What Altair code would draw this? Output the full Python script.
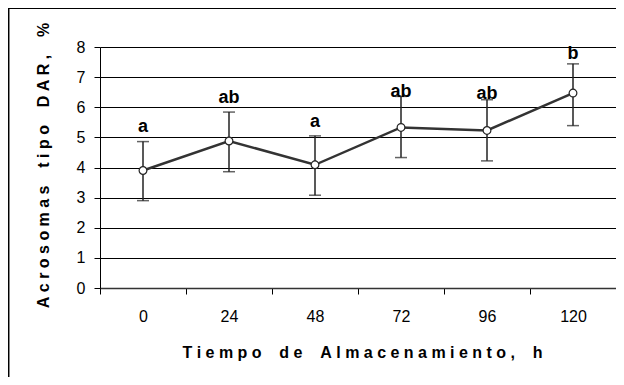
import altair as alt
import pandas as pd

horas = ["0", "24", "48", "72", "96", "120"]
media = [3.90, 4.88, 4.09, 5.33, 5.23, 6.47]
error_inf = [2.90, 3.86, 3.08, 4.33, 4.22, 5.39]
error_sup = [4.86, 5.84, 5.05, 6.36, 6.25, 7.44]
letras = ["a", "ab", "a", "ab", "ab", "b"]
letra_y = [5.19, 6.15, 5.35, 6.35, 6.27, 7.60]
y_ticks = [0, 1, 2, 3, 4, 5, 6, 7, 8]

df = pd.DataFrame({
    "hora": horas, "media": media, "lo": error_inf, "hi": error_sup,
    "letra": letras, "ly": letra_y,
})

NB = "\u00a0"

def spaced(s):
    return (NB * 4).join(NB.join(w) for w in s.split(" "))

x_axis = alt.Axis(
    title=spaced("Tiempo de Almacenamiento, h"), labelAngle=0,
    tickBand="extent", tickSize=6, tickColor="black", domainColor="#333333",
    domainWidth=1.5, labelPadding=14, labelFont="Liberation Sans",
    labelFontSize=16, labelColor="black",
    titleFont="Liberation Sans", titleFontSize=16, titleFontWeight="bold",
    titleColor="black", titleX=262, titleY=64, titleAlign="center",
    titleBaseline="middle", grid=False,
)
x_scale = alt.Scale(domain=horas, paddingInner=0, paddingOuter=0)
X = alt.X("hora:N", sort=horas, scale=x_scale, axis=x_axis)

y_scale = alt.Scale(domain=[0, 8], nice=False)
y_axis = alt.Axis(
    values=y_ticks, tickCount=len(y_ticks), grid=True, gridColor="black",
    gridWidth=1, tickSize=6, tickColor="black", domainColor="black",
    labelPadding=9, labelOverlap=False,
    labelFont="Liberation Sans", labelFontSize=16, labelColor="black",
    title=spaced("Acrosomas tipo DAR, %"), titleFont="Liberation Sans",
    titleFontSize=16, titleFontWeight="bold", titleColor="black",
    titleX=-57, titleY=118, titleAngle=270, titleAlign="center",
    titleBaseline="middle",
)

def Y(field):
    return alt.Y(field, scale=y_scale, axis=y_axis)

base = alt.Chart(df)

border = base.mark_rect(fill=None, stroke="black", strokeWidth=1.2).encode(
    x=alt.value(-91.5), x2=alt.value(800), y=alt.value(-38.5), y2=alt.value(500)
)

rules = base.mark_rule(color="#222222", strokeWidth=1.5).encode(
    x=X, y=Y("lo:Q"), y2="hi:Q"
)
caps_hi = base.mark_tick(color="#222222", size=12, thickness=1.5).encode(
    x=X, y=Y("hi:Q")
)
caps_lo = base.mark_tick(color="#222222", size=12, thickness=1.5).encode(
    x=X, y=Y("lo:Q")
)
line = base.mark_line(color="#333333", strokeWidth=2.5).encode(
    x=X, y=Y("media:Q")
)
points = base.mark_point(
    filled=True, fill="white", stroke="#222222", strokeWidth=1.2, size=60, opacity=1
).encode(x=X, y=Y("media:Q"))
labels = base.mark_text(
    font="Liberation Sans", fontSize=18, fontWeight="bold", color="black",
    baseline="alphabetic", align="center",
).encode(x=X, y=Y("ly:Q"), text="letra:N")

chart = alt.layer(border, rules, caps_hi, caps_lo, line, points, labels).properties(
    width=516, height=241,
    autosize=alt.AutoSizeParams(type="none"),
    padding={"left": 92, "top": 39, "right": 0, "bottom": 89},
).configure_view(stroke="#888888", strokeWidth=1.2).configure(background="white")

chart.save("out.html", embed_options={"renderer": "svg", "actions": False})
